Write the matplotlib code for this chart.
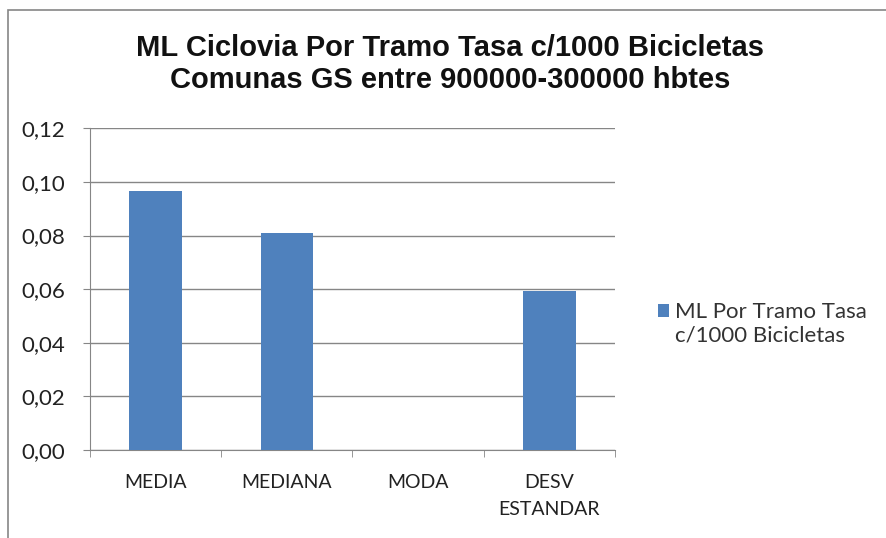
import matplotlib.pyplot as plt
from matplotlib.patches import Rectangle
from matplotlib.legend_handler import HandlerPatch

# Datos
categorias = ["MEDIA", "MEDIANA", "MODA", "DESV\nESTANDAR"]
valores = [0.0965, 0.0809, 0.0, 0.0594]
serie = "ML Por Tramo Tasa\nc/1000 Bicicletas"
y_ticks = [0.00, 0.02, 0.04, 0.06, 0.08, 0.10, 0.12]
titulo = "ML Ciclovia Por Tramo Tasa c/1000 Bicicletas\nComunas GS entre 900000-300000 hbtes"

AZUL = "#4F81BD"
GRIS = "#868686"


def cuadro_arriba(legend, orig_handle, xdescent, ydescent, width, height, fontsize):
    # el cuadrito de la leyenda va alineado con la primera linea del texto
    return Rectangle((-xdescent, -ydescent + 0.62 * fontsize), width, height)


fig = plt.figure(figsize=(8.86, 5.38), dpi=100)
ax = fig.add_axes([0.1016, 0.1636, 0.5925, 0.598])

x = range(len(categorias))
barras = ax.bar(x, valores, width=0.4, color=AZUL, label=serie, zorder=3)

ax.set_xlim(-0.5, len(categorias) - 0.5)
ax.set_ylim(0, 0.12)
ax.set_yticks(y_ticks)
ax.set_yticklabels([f"{v:.2f}".replace(".", ",") for v in y_ticks],
                   family="Lato", fontsize=16, color="#222222")
ax.set_xticks(list(x))
ax.set_xticklabels(categorias, family="Lato", fontsize=14, color="#222222",
                   linespacing=1.75)
ax.set_xticks([i - 0.5 for i in range(len(categorias) + 1)], minor=True)
ax.tick_params(axis="x", which="major", length=0, pad=17)
ax.tick_params(axis="x", which="minor", length=5, color=GRIS, direction="out")
ax.tick_params(axis="y", length=5, color=GRIS, pad=13)

ax.grid(axis="y", color=GRIS, linewidth=1, zorder=0)
for s in ["top", "right"]:
    ax.spines[s].set_visible(False)
for s in ["left", "bottom"]:
    ax.spines[s].set_color(GRIS)

fig.text(0.508, 0.881, titulo, ha="center", va="center", fontsize=21,
         fontweight="bold", family="Liberation Sans", color="#111111",
         linespacing=1.2)

ax.legend(handles=[barras[0]], labels=[serie],
          loc="upper left", bbox_to_anchor=(0.72, 0.475),
          bbox_transform=fig.transFigure, frameon=False,
          prop={"family": "Lato", "size": 16}, handlelength=0.5,
          handleheight=0.5, handletextpad=0.25, labelspacing=0.3,
          labelcolor="#333333",
          handler_map={barras[0]: HandlerPatch(patch_func=cuadro_arriba)})

# marco del area del grafico
fig.patches.append(Rectangle((8 / 886, -0.1), 1.1, 1.1 - 10 / 538,
                             transform=fig.transFigure, fill=False,
                             edgecolor=GRIS, linewidth=1.2))

fig.savefig("out.png", dpi=100)
